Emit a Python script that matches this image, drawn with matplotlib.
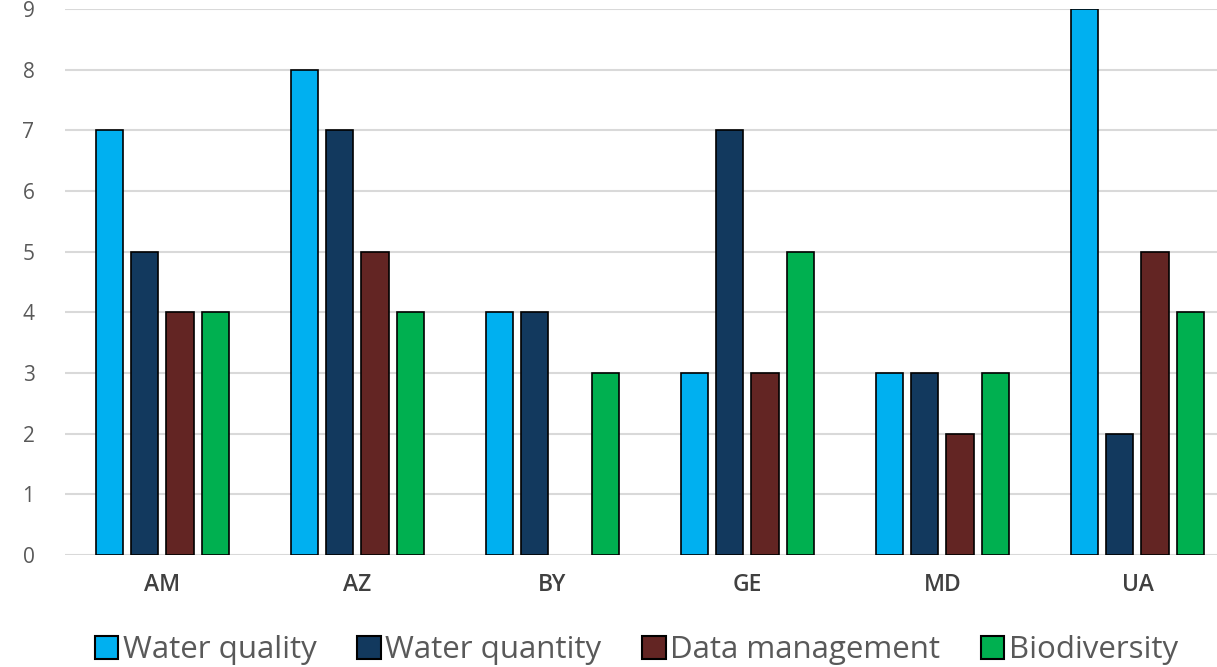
import numpy as np
import matplotlib.pyplot as plt
from matplotlib.patches import Patch

plt.rcParams['font.family'] = ['Open Sans', 'DejaVu Sans']

countries = ['AM', 'AZ', 'BY', 'GE', 'MD', 'UA']
series = ['Water quality', 'Water quantity', 'Data management', 'Biodiversity']
water_quality = [7, 8, 4, 3, 3, 9]
water_quantity = [5, 7, 4, 7, 3, 2]
data_management = [4, 5, 0, 3, 2, 5]
biodiversity = [4, 4, 3, 5, 3, 4]
colors = ['#00B0F0', '#12395E', '#632523', '#00B050']

values = [water_quality, water_quantity, data_management, biodiversity]
text_col = '#595959'

fig = plt.figure(figsize=(12.17, 6.67), dpi=100)
ax = fig.add_axes([65/1217, 112/667, 1170/1217, 546/667])

x = np.arange(len(countries))
offsets = [-0.272, -0.092, 0.09, 0.272]
for vals, off, col in zip(values, offsets, colors):
    # no outline for empty bars (BY has no data management bar)
    lw = [1.2 if v > 0 else 0 for v in vals]
    ax.bar(x + off, vals, width=0.142, color=col, edgecolor='black',
           linewidth=lw, zorder=3)

ax.set_xlim(-0.5, 5.5)
ax.set_ylim(0, 9)
ax.set_yticks(range(10))
ax.yaxis.grid(True, color='#D9D9D9', linewidth=1.5, zorder=0)
ax.set_axisbelow(True)
for s in ax.spines.values():
    s.set_visible(False)
ax.tick_params(axis='both', length=0, colors=text_col)
ax.tick_params(axis='y', labelsize=15, pad=22)
ax.tick_params(axis='x', pad=13)
ax.set_xticks(x)
ax.set_xticklabels(countries, fontsize=16.5, fontweight='semibold', color='#404040')

handles = [Patch(facecolor=c, edgecolor='black', linewidth=1.5) for c in colors]
fig.legend(handles, series, loc='center', bbox_to_anchor=(0.523, 1 - 650/667),
           ncol=4, frameon=False, fontsize=22.5, labelcolor=text_col,
           handlelength=0.75, handleheight=0.75, handletextpad=0.15, columnspacing=1.3,
           borderaxespad=0)

fig.savefig('out.png', dpi=100)
